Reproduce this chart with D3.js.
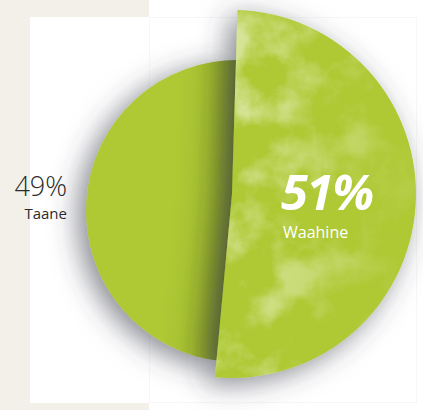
<!DOCTYPE html>
<html>
<head>
<meta charset="utf-8">
<script src="https://cdn.jsdelivr.net/npm/d3@7"></script>
<style>
  html, body { margin: 0; padding: 0; background: #ffffff; }
  svg { display: block; }
</style>
</head>
<body>
<svg id="chart" width="423" height="410"></svg>
<script>
// Share of respondents by gender
const categories = ["Waahine", "Taane"];
const values = [51, 49];
const valueLabels = ["51%", "49%"];

const W = 423, H = 410;
const svg = d3.select("#chart");
const defs = svg.append("defs");

// background: beige strip with a white card, white panel to the right
svg.append("rect").attr("x", 0).attr("y", 0).attr("width", 149).attr("height", H).attr("fill", "#f3f0ea");
svg.append("rect").attr("x", 30).attr("y", 17).attr("width", 119).attr("height", 386).attr("fill", "#ffffff");
svg.append("rect").attr("x", 149.5).attr("y", 17.5).attr("width", 267).attr("height", 385)
  .attr("fill", "#ffffff").attr("stroke", "#f7f7f8").attr("stroke-width", 1);

const pie = d3.pie().sort(null).value(d => d).startAngle(0.03).endAngle(0.03 + 2 * Math.PI);
const arcsData = pie(values);

// the highlighted slice is drawn larger and from its own centre
const slices = [
  { key: categories[0], arc: arcsData[0], cx: 232, cy: 194, r: 184 },
  { key: categories[1], arc: arcsData[1], cx: 237, cy: 211, r: 151 }
];
const arcGen = d => d3.arc().innerRadius(0).outerRadius(d.r)(d.arc);

const green = "#afc936";

// soft drop shadow
const ds = defs.append("filter").attr("id", "drop").attr("x", "-40%").attr("y", "-40%").attr("width", "180%").attr("height", "180%");
ds.append("feGaussianBlur").attr("in", "SourceAlpha").attr("stdDeviation", 14).attr("result", "b");
ds.append("feOffset").attr("in", "b").attr("dx", -8).attr("dy", 6).attr("result", "o");
ds.append("feFlood").attr("flood-color", "#3c3f4c").attr("flood-opacity", 0.62).attr("result", "c");
ds.append("feComposite").attr("in", "c").attr("in2", "o").attr("operator", "in").attr("result", "s");
const m = ds.append("feMerge");
m.append("feMergeNode").attr("in", "s");
m.append("feMergeNode").attr("in", "SourceGraphic");

// blur for the shade cast by the large slice
defs.append("filter").attr("id", "shade").attr("x", "-50%").attr("y", "-50%").attr("width", "200%").attr("height", "200%")
  .append("feGaussianBlur").attr("stdDeviation", 21);

// mottled light texture with fine grain
const tex = defs.append("filter").attr("id", "mottle").attr("filterUnits", "userSpaceOnUse")
  .attr("x", 0).attr("y", 0).attr("width", W).attr("height", H);
tex.append("feTurbulence").attr("type", "fractalNoise").attr("baseFrequency", 0.016)
  .attr("numOctaves", 6).attr("seed", 11).attr("result", "n");
tex.append("feColorMatrix").attr("in", "n").attr("type", "matrix")
  .attr("values", "0 0 0 0 1  0 0 0 0 1  0 0 0 0 1  3.8 0 0 0 -1.75").attr("result", "w");

// fade texture towards the right side
const fade = defs.append("linearGradient").attr("id", "fade").attr("x1", 0).attr("x2", 1).attr("y1", 0).attr("y2", 0.25);
fade.append("stop").attr("offset", "0%").attr("stop-color", "#fff").attr("stop-opacity", 1);
fade.append("stop").attr("offset", "55%").attr("stop-color", "#fff").attr("stop-opacity", 0.6);
fade.append("stop").attr("offset", "100%").attr("stop-color", "#fff").attr("stop-opacity", 0.1);
defs.append("mask").attr("id", "fadeMask").attr("maskContentUnits", "userSpaceOnUse")
  .append("rect").attr("x", 210).attr("y", 0).attr("width", 220).attr("height", H).attr("fill", "url(#fade)");

const big = slices[0], small = slices[1];

defs.append("clipPath").attr("id", "clipSmall")
  .append("path").attr("transform", `translate(${small.cx},${small.cy})`).attr("d", arcGen(small));
defs.append("clipPath").attr("id", "clipBig")
  .append("path").attr("transform", `translate(${big.cx},${big.cy})`).attr("d", arcGen(big));

const pieG = svg.append("g");

// smaller slice
pieG.append("path")
  .attr("class", "slice slice-" + small.key)
  .attr("transform", `translate(${small.cx},${small.cy})`)
  .attr("d", arcGen(small))
  .attr("fill", green)
  .attr("filter", "url(#drop)");

// shade from the larger slice falling on the smaller one
pieG.append("g").attr("clip-path", "url(#clipSmall)")
  .append("path")
  .attr("transform", `translate(${big.cx - 11},${big.cy})`)
  .attr("d", arcGen(big))
  .attr("fill", "#34420a")
  .attr("opacity", 0.66)
  .attr("filter", "url(#shade)");

// larger slice
pieG.append("path")
  .attr("class", "slice slice-" + big.key)
  .attr("transform", `translate(${big.cx},${big.cy})`)
  .attr("d", arcGen(big))
  .attr("fill", green)
  .attr("filter", "url(#drop)");

pieG.append("g").attr("clip-path", "url(#clipBig)")
  .append("g").attr("mask", "url(#fadeMask)")
  .append("rect").attr("x", 0).attr("y", 0).attr("width", W).attr("height", H)
  .attr("filter", "url(#mottle)").attr("opacity", 0.55);

// labels
const font = "'Open Sans', 'Noto Sans', sans-serif";
svg.append("text").attr("x", 67).attr("y", 196).attr("text-anchor", "end")
  .attr("font-family", font).attr("font-weight", 300).attr("font-size", 27)
  .attr("fill", "#2b2b2b").text(valueLabels[1]);
svg.append("text").attr("x", 67).attr("y", 219).attr("text-anchor", "end")
  .attr("font-family", font).attr("font-weight", 400).attr("font-size", 15)
  .attr("fill", "#2b2b2b").text(categories[1]);

svg.append("text").attr("x", 281).attr("y", 210)
  .attr("font-family", font).attr("font-weight", 700).attr("font-style", "italic").attr("font-size", 49)
  .attr("letter-spacing", -1.4)
  .attr("fill", "#ffffff").text(valueLabels[0]);
svg.append("text").attr("x", 283).attr("y", 238)
  .attr("font-family", font).attr("font-weight", 400).attr("font-size", 16)
  .attr("fill", "#ffffff").text(categories[0]);
</script>
</body>
</html>
